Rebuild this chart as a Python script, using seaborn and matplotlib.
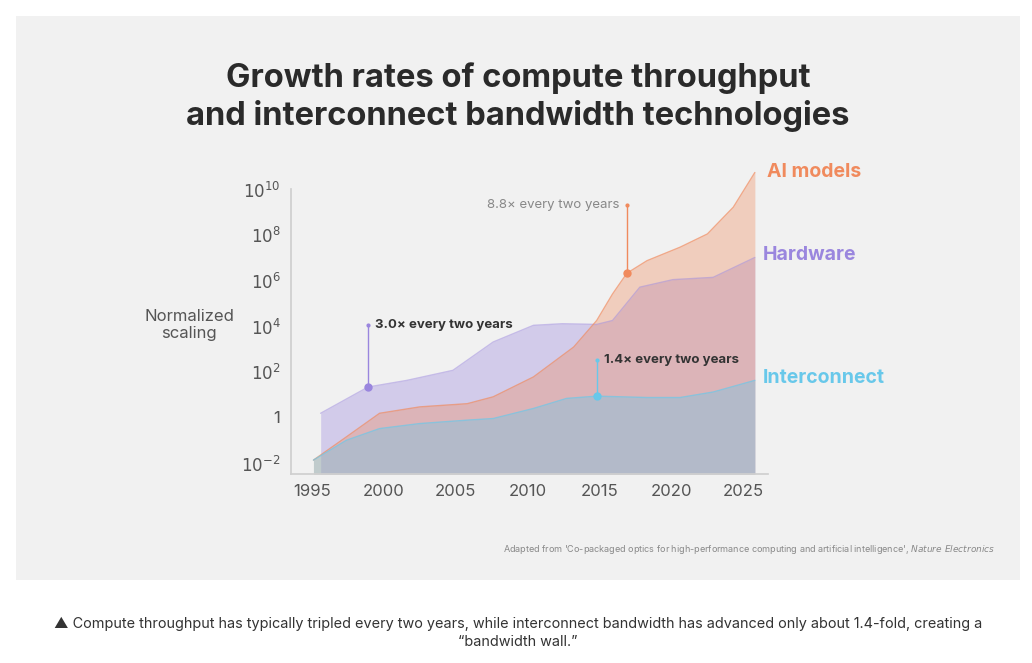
import matplotlib.pyplot as plt
import seaborn as sns
import numpy as np
from matplotlib.patches import Rectangle

# values, log10 of normalized scaling
hw_years = [1995.6, 1998.9, 2001.6, 2004.8, 2007.6, 2010.4, 2012.4, 2014.8, 2015.9, 2017.8, 2020.1, 2022.9, 2025.8]
hw_log = [0.18, 1.33, 1.62, 2.06, 3.3, 4.03, 4.1, 4.07, 4.24, 5.7, 6.03, 6.13, 7.0]

ai_years = [1995.1, 1997.4, 1999.7, 2002.5, 2005.8, 2007.6, 2010.4, 2013.2, 2014.8, 2015.9, 2016.9, 2018.3, 2020.6, 2022.5, 2024.3, 2025.8]
ai_log = [-1.87, -0.85, 0.18, 0.46, 0.6, 0.9, 1.77, 3.08, 4.24, 5.4, 6.31, 6.86, 7.45, 8.03, 9.2, 10.72]

ic_years = [1995.1, 1997.4, 1999.7, 2002.5, 2005.8, 2007.6, 2010.4, 2012.7, 2014.8, 2018.3, 2020.6, 2022.9, 2025.8]
ic_log = [-1.87, -1.0, -0.49, -0.27, -0.12, -0.05, 0.39, 0.83, 0.93, 0.87, 0.87, 1.11, 1.62]

x_ticks = [1995, 2000, 2005, 2010, 2015, 2020, 2025]
y_ticks = [-2, 0, 2, 4, 6, 8, 10]
y_labels = ['$10^{-2}$', '1', '$10^{2}$', '$10^{4}$', '$10^{6}$', '$10^{8}$', '$10^{10}$']

c_ai = '#f08a5d'
c_hw = '#9a86de'
c_ic = '#68c8ea'

sns.set_theme(style="white")
plt.rcParams['font.family'] = ['Inter', 'DejaVu Sans']

fig = plt.figure(figsize=(10.32, 6.63), dpi=100)
fig.patch.set_facecolor('white')
fig.patches.append(Rectangle((16/1032, 1-580/663), 1004/1032, 564/663,
                             transform=fig.transFigure, facecolor='#f1f1f1', edgecolor='none', zorder=-5))

ax = fig.add_axes([0.282, 0.285, 0.462, 0.430])
ax.set_zorder(2)
ax.set_facecolor('none')
base = -2.48

ax.fill_between(hw_years, base, hw_log, color=c_hw, alpha=0.35, lw=0)
sns.lineplot(x=hw_years, y=hw_log, color=c_hw, alpha=0.5, lw=1, ax=ax)
ax.fill_between(ai_years, base, ai_log, color=c_ai, alpha=0.35, lw=0)
sns.lineplot(x=ai_years, y=ai_log, color=c_ai, alpha=0.7, lw=1, ax=ax)
ax.fill_between(ic_years, base, ic_log, color=c_ic, alpha=0.35, lw=0)
sns.lineplot(x=ic_years, y=ic_log, color=c_ic, alpha=0.7, lw=1, ax=ax)
for l in ax.lines + ax.collections:
    l.set_clip_on(False)

ax.set_xlim(1993.54, 2026.7)
ax.set_ylim(base, 9.97)
ax.set_xticks(x_ticks)
ax.set_yticks(y_ticks)
ax.set_yticklabels(y_labels)
ax.tick_params(colors='#666', labelsize=12, length=4, color='#ccc', labelcolor='#555')
for s in ['top', 'right']:
    ax.spines[s].set_visible(False)
for s in ['left', 'bottom']:
    ax.spines[s].set_color('#cfcfcf')

# annotations
ax.plot([1998.9, 1998.9], [1.33, 4.03], color=c_hw, lw=1)
ax.plot([1998.9], [1.33], 'o', color=c_hw, ms=5)
ax.plot([1998.9], [4.03], 'o', color=c_hw, ms=2)
ax.text(1999.4, 4.03, '3.0× every two years', fontsize=9.5, fontweight='bold', color='#333', va='center')

ax.plot([2016.9, 2016.9], [6.31, 9.3], color=c_ai, lw=1)
ax.plot([2016.9], [6.31], 'o', color=c_ai, ms=5)
ax.plot([2016.9], [9.3], 'o', color=c_ai, ms=2)
ax.text(2016.4, 9.3, '8.8× every two years', fontsize=9.5, color='#888', va='center', ha='right')

ax.plot([2014.8, 2014.8], [0.93, 2.5], color=c_ic, lw=1)
ax.plot([2014.8], [0.93], 'o', color=c_ic, ms=5)
ax.plot([2014.8], [2.5], 'o', color=c_ic, ms=2)
ax.text(2015.3, 2.5, '1.4× every two years', fontsize=9.5, fontweight='bold', color='#333', va='center')

fig.text(767/1032, 1-172/663, 'AI models', color=c_ai, fontsize=14, fontweight='bold', va='center')
fig.text(763/1032, 1-255/663, 'Hardware', color=c_hw, fontsize=14, fontweight='bold', va='center')
fig.text(763/1032, 1-378/663, 'Interconnect', color=c_ic, fontsize=14, fontweight='bold', va='center')
fig.text(189/1032, 1-325/663, 'Normalized\nscaling', color='#555', fontsize=12, ha='center', va='center',
         linespacing=1.2)

fig.text(518/1032, 1-97/663, 'Growth rates of compute throughput\nand interconnect bandwidth technologies',
         fontsize=23.5, fontweight='bold', color='#2a2a2a', ha='center', va='center', linespacing=1.25)
fig.text(995/1032, 1-550/663,
         "Adapted from 'Co-packaged optics for high-performance computing and artificial intelligence', $\\it{Nature\\ Electronics}$",
         fontsize=6.5, color='#888', ha='right', va='center')
fig.text(518/1032, 1-633/663,
         "▲ Compute throughput has typically tripled every two years, while interconnect bandwidth has advanced only about 1.4-fold, creating a\n\u201cbandwidth wall.\u201d",
         fontsize=10.4, color='#333', ha='center', va='center', linespacing=1.35)

plt.savefig('out.png', dpi=100, facecolor=fig.get_facecolor())
